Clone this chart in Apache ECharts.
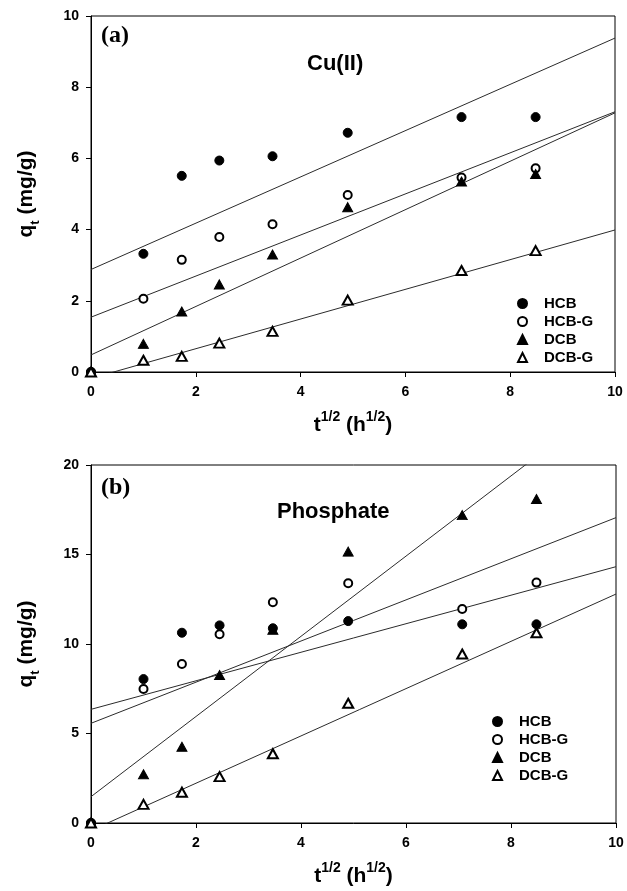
<!DOCTYPE html>
<html>
<head>
<meta charset="utf-8">
<script src="https://cdn.jsdelivr.net/npm/echarts@6/dist/echarts.min.js"></script>
<style>
  html, body { margin: 0; padding: 0; background: #fff; }
  #chart { width: 627px; height: 891px; }
</style>
</head>
<body>
<div id="chart"></div>
<script>
  // square root of contact time, h^1/2
  const tHalf = [0, 1, 1.732, 2.449, 3.464, 4.899, 7.071, 8.485];
  const seriesNames = ['HCB', 'HCB-G', 'DCB', 'DCB-G'];

  // (a) Cu(II) uptake, mg/g
  const cuHCB = [0, 3.32, 5.51, 5.94, 6.06, 6.72, 7.16, 7.16];
  const cuHCBG = [0, 2.06, 3.15, 3.79, 4.15, 4.97, 5.46, 5.72];
  const cuDCB = [0, 0.79, 1.70, 2.46, 3.30, 4.63, 5.35, 5.56];
  const cuDCBG = [0, 0.33, 0.44, 0.81, 1.14, 2.02, 2.85, 3.41];
  // fitted lines (intercept, slope), same order as seriesNames
  const cuFitIntercept = [2.88, 1.54, 0.48, -0.18];
  const cuFitSlope = [0.65, 0.577, 0.68, 0.417];

  // (b) phosphate uptake, mg/g
  const pHCB = [0, 8.04, 10.63, 11.04, 10.88, 11.28, 11.10, 11.10];
  const pHCBG = [0, 7.49, 8.88, 10.54, 12.33, 13.39, 11.96, 13.43];
  const pDCB = [0, 2.72, 4.26, 8.27, 10.8, 15.16, 17.20, 18.10];
  const pDCBG = [0, 1.04, 1.72, 2.59, 3.87, 6.69, 9.44, 10.63];
  const pFitIntercept = [6.35, 5.57, 1.47, -0.42];
  const pFitSlope = [0.797, 1.149, 2.24, 1.321];

  const fitRange = [0, 10];

  const FONT = 'Arial, "Liberation Sans", sans-serif';
  const symbols = {
    'HCB': { symbol: 'circle', size: 9 },
    'HCB-G': { symbol: 'emptyCircle', size: 8 },
    'DCB': { symbol: 'triangle', size: [10, 9] },
    'DCB-G': { symbol: 'emptyTriangle', size: [10, 9] }
  };
  // draw order: open circle, filled triangle, filled circle, open triangle
  const drawOrder = [1, 2, 0, 3];

  function pts(ys) {
    return tHalf.map((x, i) => [x, ys[i]]);
  }

  function panelSeries(idx, values, b, m) {
    let out = [];
    for (let k = 0; k < 4; k++) {
      out.push({
        type: 'line',
        xAxisIndex: idx, yAxisIndex: idx,
        data: fitRange.map(x => [x, b[k] + m[k] * x]),
        showSymbol: false,
        symbol: 'none',
        silent: true,
        clip: true,
        lineStyle: { color: '#2b2b2b', width: 1 },
        z: 1
      });
    }
    drawOrder.forEach((k, j) => {
      let name = seriesNames[k];
      out.push({
        type: 'scatter',
        name: name,
        xAxisIndex: idx, yAxisIndex: idx,
        data: pts(values[k]),
        symbol: symbols[name].symbol,
        symbolSize: symbols[name].size,
        itemStyle: { color: '#000', borderColor: '#000', borderWidth: 1, opacity: 1 },
        clip: false,
        z: 3 + j
      });
    });
    return out;
  }

  const tickLabel = { color: '#000', fontFamily: FONT, fontWeight: 'bold', fontSize: 14 };

  function xAxis(idx) {
    return {
      type: 'value', gridIndex: idx, min: 0, max: 10, interval: 2,
      axisLine: { lineStyle: { color: '#000', width: 1 } },
      axisTick: { inside: false, length: 5, lineStyle: { color: '#000' } },
      axisLabel: Object.assign({ margin: 13 }, tickLabel),
      splitLine: { show: false },
      name: '{b|t}{sup|1/2}{b| (h}{sup|1/2}{b|)}',
      nameLocation: 'middle',
      nameGap: 38,
      nameTextStyle: {
        rich: {
          b: { fontFamily: FONT, fontWeight: 'bold', fontSize: 21, color: '#000', lineHeight: 26, verticalAlign: 'bottom' },
          sup: { fontFamily: FONT, fontWeight: 'bold', fontSize: 14, color: '#000', lineHeight: 15, verticalAlign: 'top' }
        }
      }
    };
  }

  function yAxis(idx, max, interval) {
    return {
      type: 'value', gridIndex: idx, min: 0, max: max, interval: interval,
      axisLine: { lineStyle: { color: '#000', width: 1 } },
      axisTick: { inside: false, length: 5, lineStyle: { color: '#000' } },
      axisLabel: Object.assign({ margin: 12 }, tickLabel),
      splitLine: { show: false },
      name: '{b|q}{sub|t}{b| (mg/g)}',
      nameLocation: 'middle',
      nameGap: 49,
      nameRotate: 90,
      nameTextStyle: {
        rich: {
          b: { fontFamily: FONT, fontWeight: 'bold', fontSize: 21, color: '#000', lineHeight: 26, verticalAlign: 'top' },
          sub: { fontFamily: FONT, fontWeight: 'bold', fontSize: 13, color: '#000', lineHeight: 15, verticalAlign: 'bottom' }
        }
      }
    };
  }

  function legend(left, top) {
    return {
      orient: 'vertical', left: left, top: top,
      data: seriesNames,
      itemWidth: 9, itemHeight: 9, itemGap: 3,
      selectedMode: false,
      textStyle: { fontFamily: FONT, fontWeight: 'bold', fontSize: 15, color: '#000', padding: [0, 0, 0, 12] }
    };
  }

  const chart = echarts.init(document.getElementById('chart'), null, { renderer: 'canvas' });
  chart.setOption({
    animation: false,
    backgroundColor: '#fff',
    title: [
      { text: '(a)', left: 96, top: 19, textStyle: { fontFamily: '"Times New Roman", "Liberation Serif", serif', fontWeight: 'bold', fontSize: 24, color: '#000' } },
      { text: 'Cu(II)', left: 302, top: 48, textStyle: { fontFamily: FONT, fontWeight: 'bold', fontSize: 22, color: '#000' } },
      { text: '(b)', left: 96, top: 471, textStyle: { fontFamily: '"Times New Roman", "Liberation Serif", serif', fontWeight: 'bold', fontSize: 24, color: '#000' } },
      { text: 'Phosphate', left: 272, top: 496, textStyle: { fontFamily: FONT, fontWeight: 'bold', fontSize: 22, color: '#000' } }
    ],
    legend: [legend(512, 291), legend(487, 709)],
    grid: [
      { left: 91, top: 16, width: 524, height: 356, show: true, borderColor: '#000', borderWidth: 1, backgroundColor: 'transparent' },
      { left: 91, top: 465, width: 525, height: 358, show: true, borderColor: '#000', borderWidth: 1, backgroundColor: 'transparent' }
    ],
    xAxis: [xAxis(0), xAxis(1)],
    yAxis: [yAxis(0, 10, 2), yAxis(1, 20, 5)],
    series: panelSeries(0, [cuHCB, cuHCBG, cuDCB, cuDCBG], cuFitIntercept, cuFitSlope)
      .concat(panelSeries(1, [pHCB, pHCBG, pDCB, pDCBG], pFitIntercept, pFitSlope))
  });
</script>
</body>
</html>
